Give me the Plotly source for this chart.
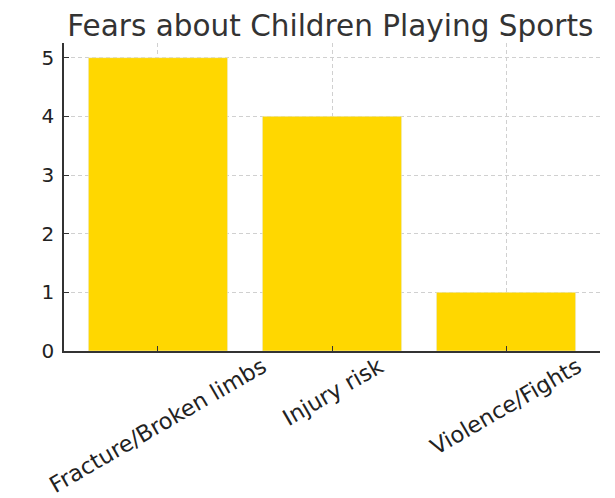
import plotly.graph_objects as go

categories = ["Fracture/Broken limbs", "Injury risk", "Violence/Fights"]
counts = [5, 4, 1]
y_ticks = [0, 1, 2, 3, 4, 5]

fig = go.Figure(go.Bar(x=categories, y=counts, marker_color="#FFD700", width=0.8))

axis_common = dict(
    showline=True, linecolor="#333333", linewidth=1.5,
    ticks="inside", ticklen=5, tickcolor="#333333", tickwidth=1.2,
    showgrid=True, gridcolor="#d0d0d0", griddash="4px,3px", gridwidth=1,
    tickfont=dict(family="DejaVu Sans", size=20, color="#222222"),
    zeroline=False, automargin=False,
)

# page body adds an 8px offset, so the figure is 8px smaller than the window
fig.update_layout(
    width=607, height=490,
    margin=dict(l=56, r=15, t=35, b=147),
    paper_bgcolor="white", plot_bgcolor="white",
    title=dict(text="Fears about Children Playing Sports",
               font=dict(family="DejaVu Sans", size=29.5, color="#333333"),
               x=0.531, xanchor="center", y=0.964, yanchor="middle"),
    bargap=0.2,
    showlegend=False,
)
fig.update_xaxes(range=[-0.54, 2.54], showticklabels=False, **axis_common)
fig.update_yaxes(range=[0, 5.25], tickvals=y_ticks, ticklabelstandoff=4, **axis_common)

for cat in categories:
    fig.add_annotation(
        x=cat, xref="x", y=0, yref="paper", yshift=1,
        text=cat, textangle=-30, showarrow=False,
        xanchor="center", yanchor="top",
        font=dict(family="DejaVu Sans", size=22.5, color="#222222"),
    )

fig.write_html("out.html")
